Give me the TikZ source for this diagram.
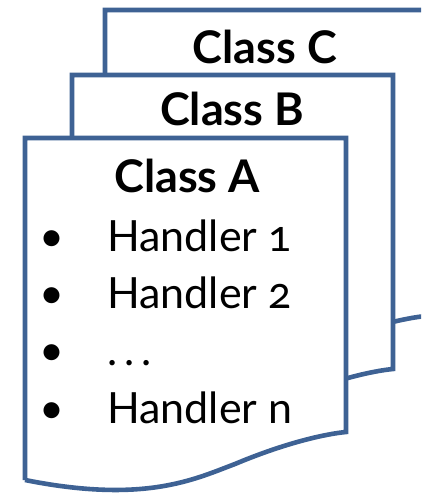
\documentclass[tikz,border=0pt]{standalone}
\usepackage{fontspec}
\setmainfont{Lato}[Numbers=OldStyle]
\definecolor{docblue}{RGB}{62,98,148}
\tikzset{
  docline/.style={draw=docblue, line width=4.6pt, fill=white, line join=miter},
  titletext/.style={font=\bfseries\fontsize{45}{50}\selectfont, anchor=base, inner sep=0pt},
  itemtext/.style={font=\fontsize{43}{48}\selectfont, anchor=base west, inner sep=0pt},
  bullettext/.style={font=\fontsize{43}{48}\selectfont, anchor=base, inner sep=0pt},
}
% one document sheet with a wavy lower edge; origin = top-left corner
\newcommand{\docsheet}[2]{%
  \draw[docline, shift={#1}]
    (0,#2) -- (0,0) -- (321,0) -- (321,#2-48)
    .. controls (300,#2-46) and (260,#2-37) .. (210,#2-16)
    .. controls (170,#2-1) and (120,#2+24) .. (0,#2);
}
\begin{document}
\begin{tikzpicture}[x=1pt, y=-1pt]
  \useasboundingbox (0,0) rectangle (421,501);
  \clip (0,0) rectangle (421,501);
  % back sheet (Class C), middle sheet (Class B), front sheet (Class A)
  \docsheet{(105,10)}{354}
  \docsheet{(72,75)}{342}
  \docsheet{(25,138)}{342}
  \node[titletext] (classC) at (265,63) {Class C};
  \node[titletext] (classB) at (232,125) {Class B};
  \node[titletext] (classA) at (187,192) {Class A};
  \node[bullettext] (b1) at (52,251) {•};
  \node[bullettext] (b2) at (52,308) {•};
  \node[bullettext] (b3) at (52,365) {•};
  \node[bullettext] (b4) at (52,423) {•};
  \node[itemtext] (h1) at (107,251) {Handler 1};
  \node[itemtext] (h2) at (107,308) {Handler 2};
  \node[itemtext] (h3) at (107,365) {.\kern7pt.\kern7pt.};
  \node[itemtext] (h4) at (107,423) {Handler n};
\end{tikzpicture}
\end{document}
